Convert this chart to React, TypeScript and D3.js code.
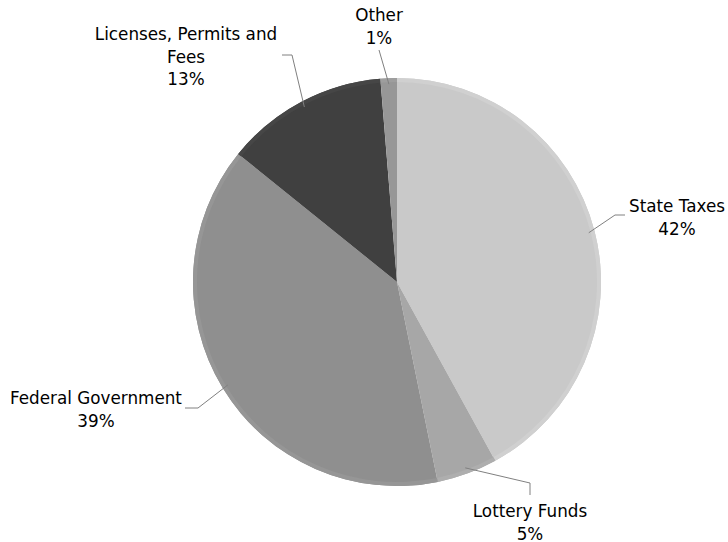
import React from "react";
import * as d3 from "d3";

const categories = ["State Taxes", "Lottery Funds", "Federal Government", "Licenses, Permits and Fees", "Other"];
const values = [42, 4.8, 39, 12.9, 1.3];
const percentLabels = ["42%", "5%", "39%", "13%", "1%"];
const colors = ["#c9c9c9", "#a7a7a7", "#8f8f8f", "#404040", "#979797"];
const rimColors = ["#d0d0d0", "#aeaeae", "#969696", "#464646", "#9e9e9e"];

const W = 728, H = 542;
const cx = 397, cy = 282, R = 204;

const labelLayout = [
  { tx: 677, ty: 212, lines: ["State Taxes"], elbow: [615, 215], end: [625, 215] },
  { tx: 530, ty: 517, lines: ["Lottery Funds"], elbow: [530, 483], end: [530, 495] },
  { tx: 96, ty: 404, lines: ["Federal Government"], elbow: [198, 408], end: [185, 408] },
  { tx: 186, ty: 40, lines: ["Licenses, Permits and", "Fees"], elbow: [292, 55], end: [282, 55] },
  { tx: 379, ty: 21, lines: ["Other"], elbow: [379, 50], end: [379, 50] },
];

export default function App() {
  const pie = d3.pie<number>().sort(null).value((d) => d)(values);
  const arc = d3.arc<d3.PieArcDatum<number>>().innerRadius(0).outerRadius(R);
  const rim = d3.arc<d3.PieArcDatum<number>>().innerRadius(R - 4).outerRadius(R);
  const lineH = 22.5;
  return (
    <svg width={W} height={H} style={{ position: "absolute", left: 0, top: 0, background: "#fff" }}
      fontFamily="'DejaVu Sans', Verdana, sans-serif" fontSize={16.8}>
      <g transform={`translate(${cx},${cy})`}>
        {pie.map((p, i) => (
          <g key={i}>
            <path d={arc(p) || ""} fill={colors[i]} />
            <path d={rim(p) || ""} fill={rimColors[i]} />
          </g>
        ))}
      </g>
      {pie.map((p, i) => {
        const L = labelLayout[i];
        const mid = (p.startAngle + p.endAngle) / 2;
        const ax = cx + Math.sin(mid) * (R - 6);
        const ay = cy - Math.cos(mid) * (R - 6);
        const d = `M${ax},${ay}L${L.elbow[0]},${L.elbow[1]}L${L.end[0]},${L.end[1]}`;
        const allLines = [...L.lines, percentLabels[i]];
        return (
          <g key={i}>
            <path d={d} fill="none" stroke="#808080" strokeWidth={1} />
            <text textAnchor="middle" fill="#000">
              {allLines.map((t, j) => (
                <tspan key={j} x={L.tx} y={L.ty + j * lineH}>{t}</tspan>
              ))}
            </text>
          </g>
        );
      })}
    </svg>
  );
}
